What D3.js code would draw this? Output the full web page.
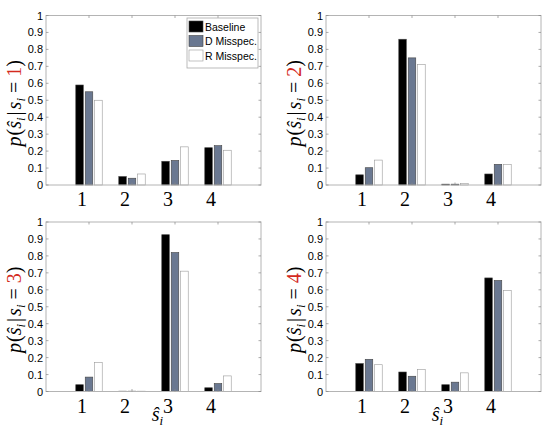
<!DOCTYPE html>
<html>
<head>
<meta charset="utf-8">
<script src="https://cdn.jsdelivr.net/npm/d3@7"></script>
<style>
  body { margin: 0; background: #fff; }
  svg { display: block; }
</style>
</head>
<body>
<svg id="chart" width="550" height="432"></svg>
<script>
// estimated category probabilities p(s_hat | s), one row per true state
var categories = [1, 2, 3, 4];
var seriesNames = ["Baseline", "D Misspec.", "R Misspec."];
var seriesColors = ["#000000", "#6a7891", "#ffffff"];
var trueStates = [1, 2, 3, 4];
var yTicks = [0, 0.1, 0.2, 0.3, 0.4, 0.5, 0.6, 0.7, 0.8, 0.9, 1];

var baseline = [
  [0.59, 0.05, 0.14, 0.22],
  [0.06, 0.86, 0.005, 0.065],
  [0.04, 0.002, 0.925, 0.022],
  [0.165, 0.115, 0.04, 0.67]
];
var dMisspec = [
  [0.55, 0.04, 0.145, 0.232],
  [0.102, 0.75, 0.005, 0.122],
  [0.085, 0.002, 0.82, 0.047],
  [0.19, 0.09, 0.055, 0.655]
];
var rMisspec = [
  [0.50, 0.065, 0.225, 0.205],
  [0.147, 0.71, 0.01, 0.122],
  [0.172, 0.002, 0.71, 0.092],
  [0.158, 0.13, 0.11, 0.595]
];

var panels = [
  {left: 46, top: 15.5, showX: false},
  {left: 326, top: 15.5, showX: false},
  {left: 46, top: 222, showX: true},
  {left: 326, top: 222, showX: true}
];
var pw = 215, ph = 169.5;
var boxColor = "#b4b4b4";

var svg = d3.select('#chart');

panels.forEach(function(p, k) {
  var x = d3.scaleLinear().domain([0, 5]).range([p.left, p.left + pw]);
  var y = d3.scaleLinear().domain([0, 1]).range([p.top + ph, p.top]);
  var g = svg.append('g').attr('class', 'panel');
  var rows = [baseline[k], dMisspec[k], rMisspec[k]];

  // bars
  rows.forEach(function(vals, s) {
    g.selectAll('rect.s' + s)
      .data(vals)
      .enter()
      .append('rect')
      .attr('class', 's' + s)
      .attr('x', function(d, i) { return x(categories[i] + (s - 1) * 0.22 - 0.0875); })
      .attr('width', x(0.175) - x(0))
      .attr('y', function(d) { return y(d); })
      .attr('height', function(d) { return y(0) - y(d); })
      .attr('fill', seriesColors[s])
      .attr('stroke', s == 2 ? '#9a9a9a' : '#444')
      .attr('stroke-width', 0.6);
  });

  // box
  g.append('rect')
    .attr('x', p.left).attr('y', p.top)
    .attr('width', pw).attr('height', ph)
    .attr('fill', 'none')
    .attr('stroke', boxColor)
    .attr('stroke-width', 1);

  // ticks (inside, both sides)
  g.selectAll('path.yt')
    .data(yTicks)
    .enter()
    .append('path')
    .attr('class', 'yt')
    .attr('d', function(d) {
      return 'M' + p.left + ' ' + y(d) + 'h2.5M' + (p.left + pw) + ' ' + y(d) + 'h-2.5';
    })
    .attr('stroke', '#888')
    .attr('stroke-width', 0.7);
  g.selectAll('path.xt')
    .data(categories)
    .enter()
    .append('path')
    .attr('class', 'xt')
    .attr('d', function(d) {
      return 'M' + x(d) + ' ' + y(0) + 'v-2.5M' + x(d) + ' ' + y(1) + 'v2.5';
    })
    .attr('stroke', '#888')
    .attr('stroke-width', 0.7);

  g.selectAll('text.yl')
    .data(yTicks)
    .enter()
    .append('text')
    .attr('class', 'yl')
    .attr('x', p.left - 3)
    .attr('y', function(d) { return y(d) + 4; })
    .attr('text-anchor', 'end')
    .attr('font-family', 'Liberation Sans, Arial, sans-serif')
    .attr('font-size', '11px')
    .attr('fill', '#000')
    .text(function(d) { return d; });

  g.selectAll('text.xl')
    .data(categories)
    .enter()
    .append('text')
    .attr('class', 'xl')
    .attr('x', function(d) { return x(d) - 7; })
    .attr('y', y(0) + 21)
    .attr('text-anchor', 'middle')
    .attr('font-family', 'Liberation Serif, Times New Roman, serif')
    .attr('font-size', '20px')
    .attr('fill', '#000')
    .text(function(d) { return d; });

  // y label p(s_hat_i | s_i = k)
  var cy = p.top + ph / 2 + 3;
  var yl = g.append('text')
    .attr('transform', 'translate(' + (p.left - 25) + ',' + cy + ') rotate(-90)')
    .attr('text-anchor', 'middle')
    .attr('font-family', 'Liberation Serif, Times New Roman, serif')
    .attr('font-size', '20px')
    .attr('fill', '#000');
  yl.append('tspan').attr('font-style', 'italic').text('p');
  yl.append('tspan').attr('dx', 1).text('(');
  yl.append('tspan').attr('font-style', 'italic').text('ŝ');
  yl.append('tspan').attr('font-style', 'italic').attr('font-size', '13px').attr('dy', 4).text('i');
  yl.append('tspan').attr('dy', -4).attr('dx', 2).text('|');
  yl.append('tspan').attr('font-style', 'italic').attr('dx', 2).text('s');
  yl.append('tspan').attr('font-style', 'italic').attr('font-size', '13px').attr('dy', 4).text('i');
  yl.append('tspan').attr('dy', -4).attr('dx', 5).text('=');
  yl.append('tspan').attr('dx', 5).attr('fill', '#d42a1e').text(trueStates[k]);
  yl.append('tspan').text(')');

  if (p.showX) {
    var xl = g.append('text')
      .attr('x', p.left + pw / 2 + 4)
      .attr('y', y(0) + 29)
      .attr('text-anchor', 'middle')
      .attr('font-family', 'Liberation Serif, Times New Roman, serif')
      .attr('font-size', '20px')
      .attr('fill', '#000');
    xl.append('tspan').attr('font-style', 'italic').text('ŝ');
    xl.append('tspan').attr('font-style', 'italic').attr('font-size', '13px').attr('dy', 4).text('i');
  }

  if (k == 0) {
    var lg = g.append('g').attr('class', 'legend');
    lg.append('rect')
      .attr('x', 187).attr('y', 18)
      .attr('width', 71).attr('height', 50)
      .attr('fill', '#fff')
      .attr('stroke', '#aaa')
      .attr('stroke-width', 0.8);
    var items = lg.selectAll('g.item')
      .data(seriesNames)
      .enter()
      .append('g')
      .attr('class', 'item')
      .attr('transform', function(d, i) { return 'translate(189,' + (21 + i * 14.5) + ')'; });
    items.append('rect')
      .attr('width', 14).attr('height', 11)
      .attr('fill', function(d, i) { return seriesColors[i]; })
      .attr('stroke', function(d, i) { return i == 2 ? '#9a9a9a' : '#444'; })
      .attr('stroke-width', 0.6);
    items.append('text')
      .attr('x', 16).attr('y', 9.5)
      .attr('font-family', 'Liberation Sans, Arial, sans-serif')
      .attr('font-size', '10.5px')
      .attr('fill', '#000')
      .text(function(d) { return d; });
  }
});
</script>
</body>
</html>
